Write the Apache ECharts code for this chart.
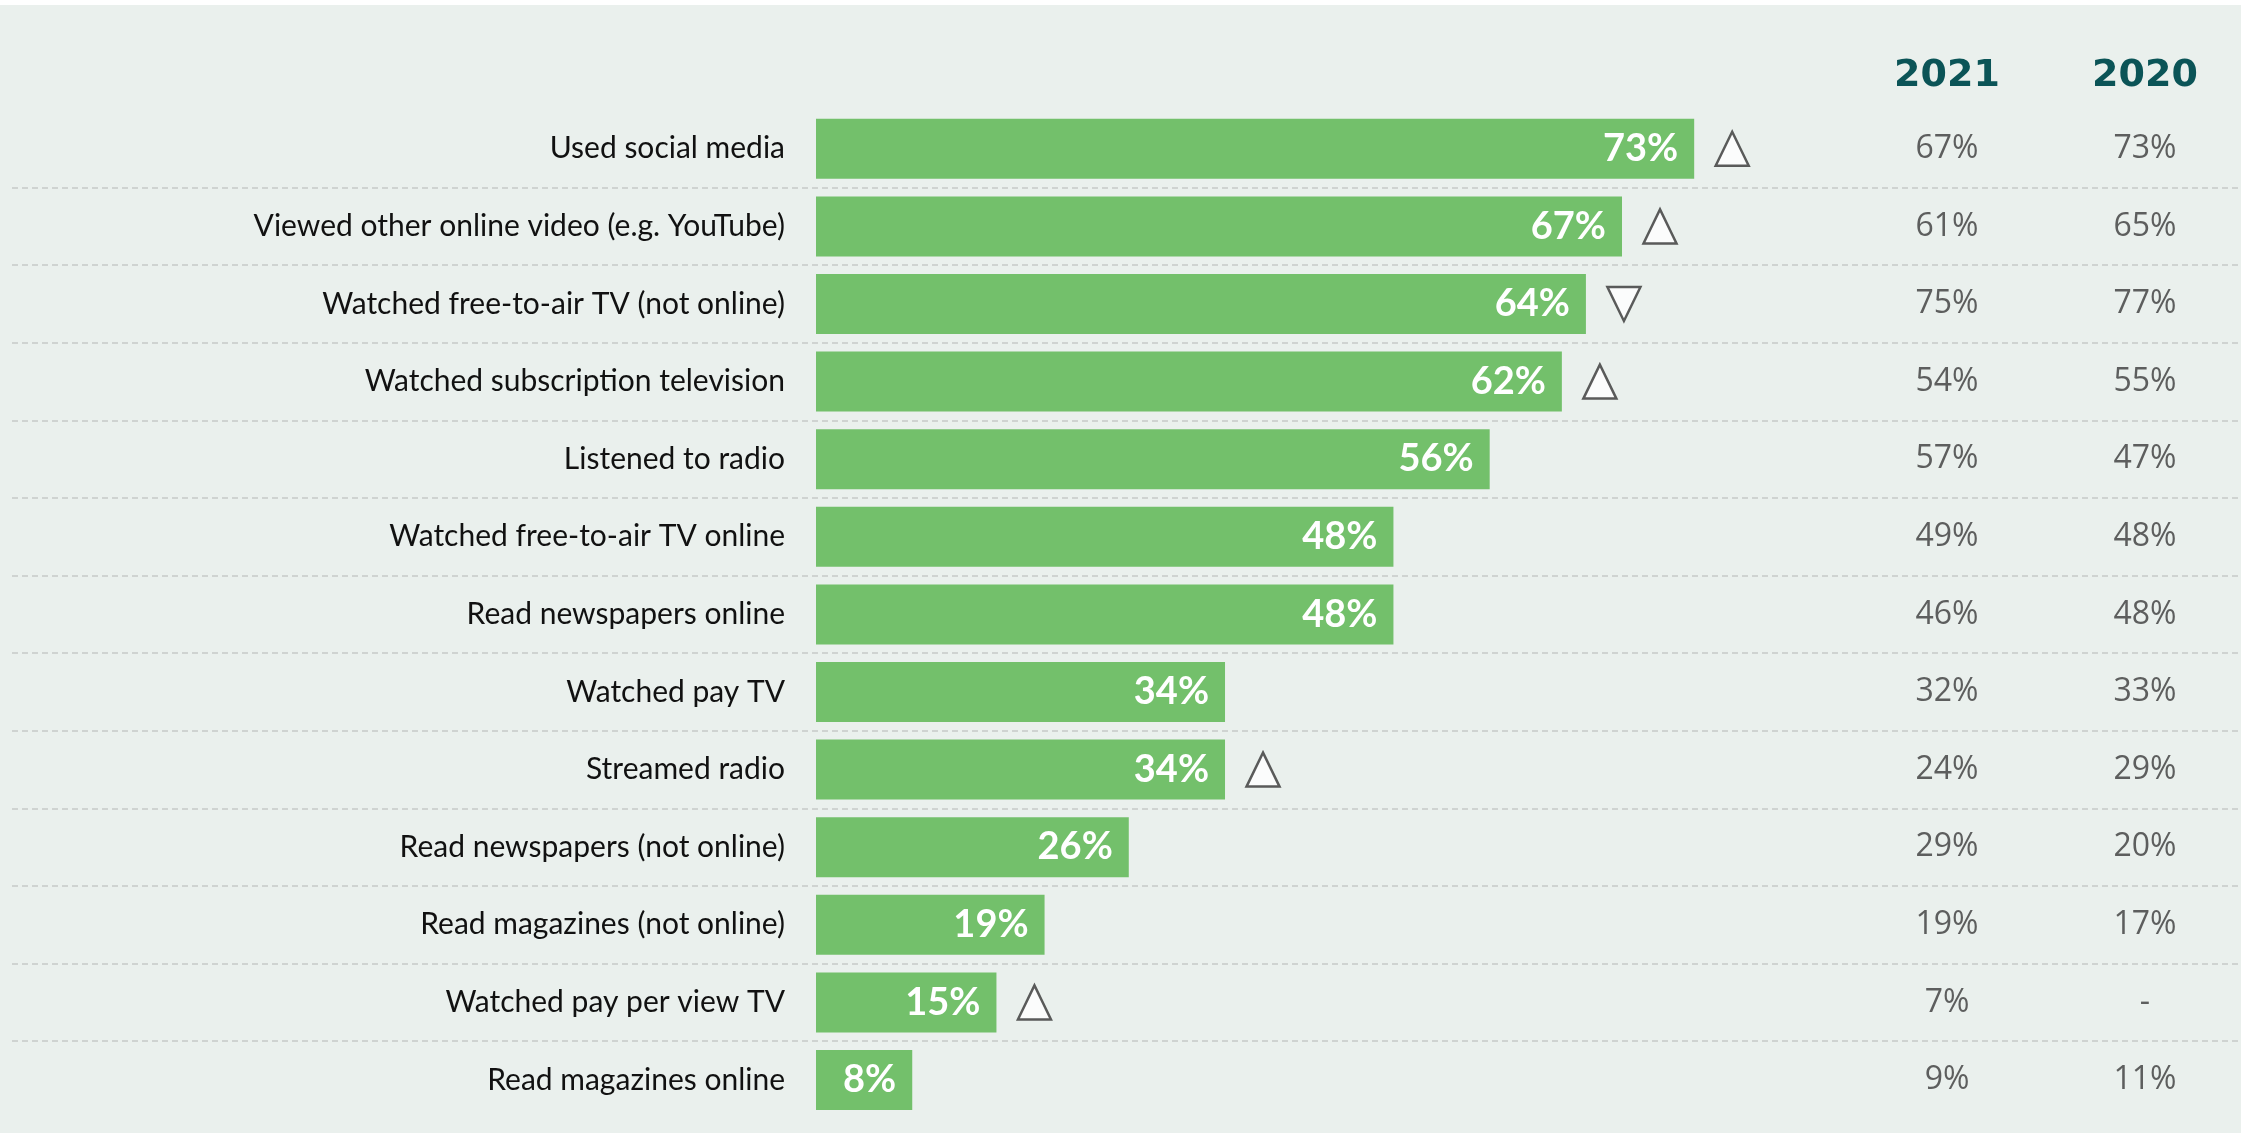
<!DOCTYPE html>
<html>
<head>
<meta charset="utf-8">
<script src="https://cdn.jsdelivr.net/npm/echarts@6/dist/echarts.min.js"></script>
<style>
  html, body { margin: 0; padding: 0; background: #fff; }
  #main { width: 2241px; height: 1133px; }
</style>
</head>
<body>
<div id="main"></div>
<script>
// chart data
var categories = [
  'Used social media',
  'Viewed other online video (e.g. YouTube)',
  'Watched free-to-air TV (not online)',
  'Watched subscription television',
  'Listened to radio',
  'Watched free-to-air TV online',
  'Read newspapers online',
  'Watched pay TV',
  'Streamed radio',
  'Read newspapers (not online)',
  'Read magazines (not online)',
  'Watched pay per view TV',
  'Read magazines online'
];
var current = [73, 67, 64, 62, 56, 48, 48, 34, 34, 26, 19, 15, 8];
// significant change marker: 'up', 'down' or null
var change = ['up', 'up', 'down', 'up', null, null, null, null, 'up', null, null, 'up', null];
var years = ['2021', '2020'];
var prev2021 = [67, 61, 75, 54, 57, 49, 46, 32, 24, 29, 19, 7, 9];
var prev2020 = [73, 65, 77, 55, 47, 48, 48, 33, 29, 20, 17, null, 11];

var rowH = 77.6;
var top0 = 110;

function markers(dir) {
  var out = [];
  change.forEach(function (c, i) {
    if (c === dir) out.push([current[i], i]);
  });
  return out;
}

function tableData(arr, col) {
  return arr.map(function (v, i) {
    return [col, i, v == null ? '-' : v + '%'];
  });
}

var tableLabel = {
  show: true,
  position: 'inside',
  formatter: function (p) { return p.value[2]; },
  fontFamily: 'Open Sans',
  fontSize: 32,
  color: '#3a3a3a'
};

var triStyle = { color: '#fff', borderColor: '#333', borderWidth: 2.5 };

var chart = echarts.init(document.getElementById('main'));
var option = {
  backgroundColor: '#EAF0ED',
  animation: false,
  graphic: [
    { type: 'rect', shape: { x: 0, y: 0, width: 2241, height: 5 }, style: { fill: '#fff' }, silent: true }
  ],
  grid: [
    { left: 816, width: 1203, top: top0, height: rowH * 13 },
    { left: 1947, width: 198, top: top0, height: rowH * 13 },
    { left: 12, right: 0, top: top0 + rowH, height: rowH * 11 }
  ],
  xAxis: [
    { gridIndex: 0, type: 'value', min: 0, max: 100, show: false },
    {
      gridIndex: 1, type: 'value', min: 0, max: 1, interval: 1, position: 'top',
      axisLine: { show: false }, axisTick: { show: false }, splitLine: { show: false },
      axisLabel: {
        margin: 15,
        formatter: function (v) { return years[v]; },
        fontFamily: 'DejaVu Sans', fontWeight: 'bold', fontSize: 38, color: '#0B5457'
      }
    },
    {
      gridIndex: 2, type: 'value', min: 0, max: 1,
      axisLine: { show: false }, axisTick: { show: false }, axisLabel: { show: false },
      splitLine: { show: false }
    }
  ],
  yAxis: [
    {
      gridIndex: 0, type: 'category', data: categories, inverse: true,
      axisLine: { show: false }, axisTick: { show: false },
      axisLabel: { margin: 31, fontFamily: 'Lato', fontSize: 30, color: '#111' }
    },
    { gridIndex: 1, type: 'category', data: categories, inverse: true, show: false },
    {
      gridIndex: 2, type: 'value', min: 1, max: 12, interval: 1,
      axisLine: { show: false }, axisTick: { show: false }, axisLabel: { show: false },
      splitLine: { show: true, lineStyle: { color: '#c6c9c8', width: 1.5, type: [6, 4] } }
    }
  ],
  series: [
    {
      type: 'bar',
      xAxisIndex: 0, yAxisIndex: 0,
      data: current,
      barWidth: 60,
      itemStyle: { color: '#73C06B' },
      label: {
        show: true,
        position: 'insideRight',
        distance: 16,
        formatter: '{c}%',
        fontFamily: 'Lato', fontWeight: 'bold', fontSize: 38, color: '#fff'
      }
    },
    {
      type: 'scatter',
      xAxisIndex: 0, yAxisIndex: 0,
      data: markers('up'),
      symbol: 'triangle',
      symbolSize: [33, 34],
      symbolOffset: [38, 0],
      itemStyle: triStyle,
      z: 5
    },
    {
      type: 'scatter',
      xAxisIndex: 0, yAxisIndex: 0,
      data: markers('down'),
      symbol: 'triangle',
      symbolRotate: 180,
      symbolSize: [33, 34],
      symbolOffset: [38, 0],
      itemStyle: triStyle,
      z: 5
    },
    {
      type: 'scatter',
      xAxisIndex: 1, yAxisIndex: 1,
      data: tableData(prev2021, 0),
      symbolSize: 1,
      itemStyle: { color: 'rgba(0,0,0,0)' },
      label: tableLabel
    },
    {
      type: 'scatter',
      xAxisIndex: 1, yAxisIndex: 1,
      data: tableData(prev2020, 1),
      symbolSize: 1,
      itemStyle: { color: 'rgba(0,0,0,0)' },
      label: tableLabel
    }
  ]
};
chart.setOption(option);
</script>
</body>
</html>
